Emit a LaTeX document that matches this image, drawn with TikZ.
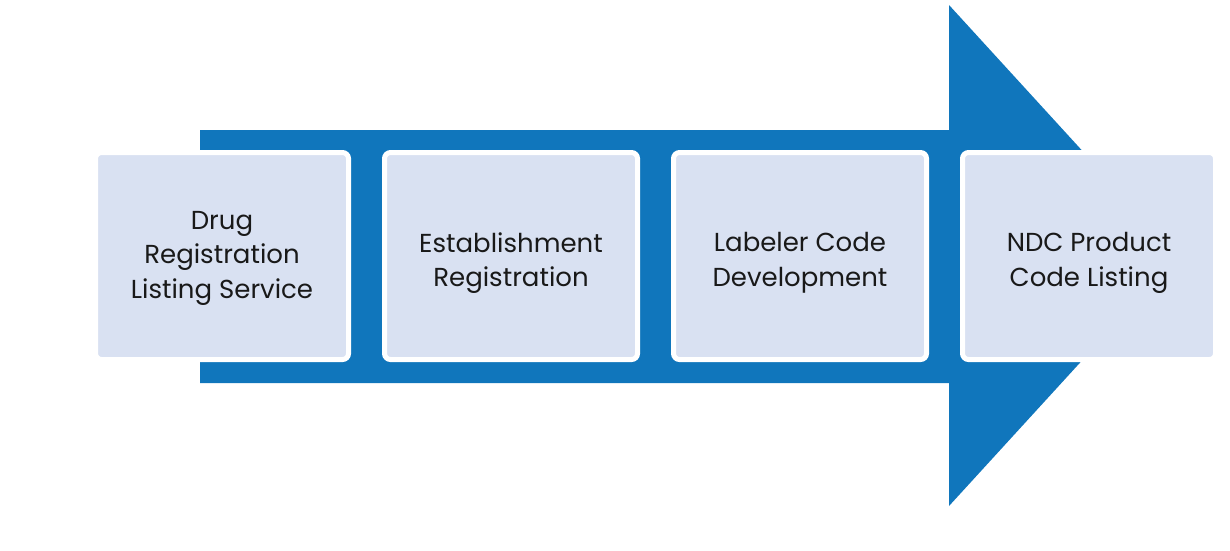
\documentclass[tikz,border=0pt]{standalone}
\usepackage{fontspec}
\setmainfont{Poppins}
\definecolor{arrowblue}{HTML}{1076BC}
\definecolor{boxfill}{HTML}{D9E1F2}
\begin{document}
\begin{tikzpicture}[x=1pt,y=-1pt,
  stepbox/.style={draw=white, line width=5pt, fill=boxfill, rounded corners=6pt,
    minimum width=253pt, minimum height=207pt, inner sep=0pt},
  steptext/.style={align=center, inner sep=0pt,
    font=\fontsize{26}{34.5}\selectfont, text=black!90}]
\useasboundingbox (0,0) rectangle (1230,550);
\fill[arrowblue] (200,130) -- (949,130) -- (949,5) -- (1178,255.5) -- (949,506) -- (949,383) -- (200,383) -- cycle;
\node[stepbox] (b1) at (222,256) {};
\node[stepbox] (b2) at (511,256) {};
\node[stepbox] (b3) at (800,256) {};
\node[stepbox] (b4) at (1089,256) {};
\node[steptext, yshift=-2pt] (t1) at (b1.center) {Drug\\Registration\\Listing Service};
\node[steptext, yshift=-7pt] (t2) at (b2.center) {Establishment\\Registration};
\node[steptext, yshift=-7pt] (t3) at (b3.center) {Labeler Code\\Development};
\node[steptext, yshift=-7pt] (t4) at (b4.center) {NDC Product\\Code Listing};
\end{tikzpicture}
\end{document}
